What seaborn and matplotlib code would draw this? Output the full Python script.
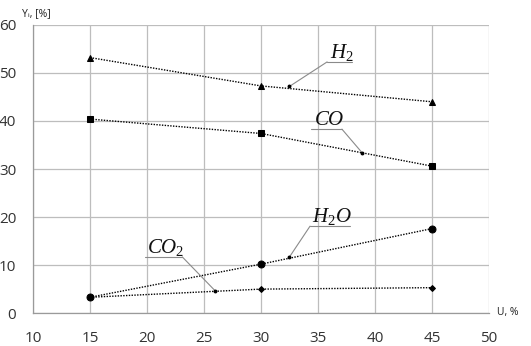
import matplotlib
matplotlib.use("Agg")
import matplotlib.pyplot as plt
import seaborn as sns
import pandas as pd

# Conversion level U, % and gas composition Yi, %
u = [15, 30, 45]
h2 = [53.2, 47.3, 44.0]
co = [40.4, 37.4, 30.6]
h2o = [3.3, 10.2, 17.6]
co2 = [3.3, 5.0, 5.3]

x_ticks = [10, 15, 20, 25, 30, 35, 40, 45, 50]
y_ticks = [0, 10, 20, 30, 40, 50, 60]

sns.set_theme(style="white")
plt.rcParams["font.family"] = ["Open Sans", "DejaVu Sans"]
plt.rcParams["mathtext.fontset"] = "custom"
plt.rcParams["mathtext.it"] = "Liberation Serif:italic"
plt.rcParams["mathtext.rm"] = "Liberation Serif"

fig = plt.figure(figsize=(5.31, 3.46), dpi=100)
ax = fig.add_axes([0.062, 0.095, 0.859, 0.833])

series = [
    (h2, "^", 4.5),
    (co, "s", 5),
    (h2o, "o", 5),
    (co2, "D", 3),
]
for vals, mk, ms in series:
    df = pd.DataFrame({"U": u, "Y": vals})
    sns.lineplot(data=df, x="U", y="Y", ax=ax, color="black", linestyle=(0, (1, 1)),
                 linewidth=1.0, marker=mk, markersize=ms, markeredgecolor="black",
                 markerfacecolor="black")

ax.set_xlim(10, 50)
ax.set_ylim(0, 60)
ax.set_xticks(x_ticks)
ax.set_yticks(y_ticks)
ax.grid(True, color="#bdbdbd", linewidth=0.9)
for side in ["top", "right"]:
    ax.spines[side].set_visible(False)
for side in ["left", "bottom"]:
    ax.spines[side].set_color("#9a9a9a")
    ax.spines[side].set_linewidth(0.9)
ax.tick_params(axis="both", colors="#9a9a9a", length=3, width=0.9, labelsize=11,
               labelcolor="#333333", pad=10)
ax.tick_params(axis="y", pad=9)
ax.set_xlabel("")
ax.set_ylabel("")

# axis captions
fig.text(22 / 531, 1 - 14 / 346, "Yᵢ, [%]", fontsize=7.5, color="#222222", va="center")
fig.text(497 / 531, 1 - 313 / 346, "U, %", fontsize=7.5, color="#222222", va="center")

# species callouts: label, underline (x0, x1, y), leader start, leader end on the curve
callouts = [
    (r"$\mathit{H_2}$", (35.8, 38.0, 52.3), (35.8, 52.3), (32.5, 47.2)),
    (r"$\mathit{CO}$", (34.4, 37.1, 38.3), (37.1, 38.3), (38.9, 33.3)),
    (r"$\mathit{H_2O}$", (34.3, 37.8, 18.1), (34.3, 18.1), (32.5, 11.7)),
    (r"$\mathit{CO_2}$", (19.8, 23.1, 11.7), (23.1, 11.7), (26.0, 4.6)),
]
for label, (ux0, ux1, uy), (lx, ly), (px, py) in callouts:
    ax.plot([ux0, ux1], [uy, uy], color="#8a8a8a", linewidth=0.8)
    ax.plot([lx, px], [ly, py], color="#8a8a8a", linewidth=0.8)
    ax.plot([px], [py], marker="o", markersize=1.8, color="black")
    ax.text((ux0 + ux1) / 2 + 0.2, uy - 0.2, label, fontsize=15, color="#111111",
            ha="center", va="bottom")

fig.savefig("out.png", dpi=100)
